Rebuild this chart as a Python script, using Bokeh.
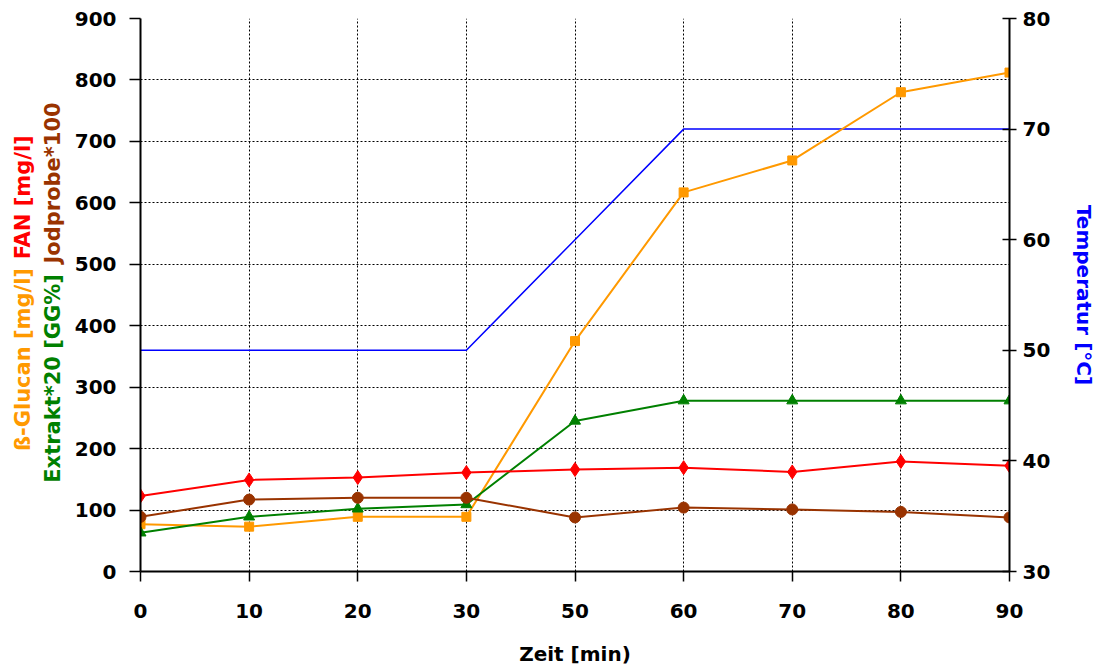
import math
from bokeh.plotting import figure
from bokeh.models import Range1d, LinearAxis, FixedTicker
from bokeh.layouts import row
from bokeh.core.properties import value
from bokeh.embed import file_html
from bokeh.resources import INLINE

# ---- data ----
zeit_labels = ["0", "10", "20", "30", "50", "60", "70", "80", "90"]
glucan = [77, 73, 89, 89, 375, 617, 669, 780, 812]
fan = [123, 149, 153, 161, 166, 169, 162, 179, 172]
extrakt = [63, 89, 102, 109, 245, 278, 278, 278, 278]
jodprobe = [89, 117, 120, 120, 88, 104, 101, 97, 88]
temperatur = [50, 50, 50, 50, 60, 70, 70, 70, 70]
left_ticks = [0, 100, 200, 300, 400, 500, 600, 700, 800, 900]
right_ticks = [30, 40, 50, 60, 70, 80]

x = list(range(len(zeit_labels)))

FONT = "DejaVu Sans"
ORANGE = "#FF9900"
RED = "#FF0000"
GREEN = "#008000"
BROWN = "#993300"
BLUE = "#0000FF"

H = 668
LW = 68          # width of the strip holding the left multi-coloured title
MW = 1031        # width of the main chart
TOP, BOTTOM = 18, 572   # frame edges (pixels from the top)

p = figure(width=MW, height=H, output_backend="svg", toolbar_location=None,
           x_range=Range1d(0, len(x) - 1), y_range=Range1d(0, 900),
           min_border_left=72, min_border_right=88, min_border_top=TOP,
           min_border_bottom=H - BOTTOM)
p.outline_line_color = None
p.background_fill_color = "white"
p.border_fill_color = "white"
p.extra_y_ranges = {"temp": Range1d(30, 80)}

xa = p.xaxis[0]
xa.ticker = FixedTicker(ticks=x)
xa.major_label_overrides = {i: lab for i, lab in enumerate(zeit_labels)}
xa.axis_label = "Zeit [min)"
ya = p.yaxis[0]
ya.ticker = FixedTicker(ticks=left_ticks)
ya.axis_label = None

ra = LinearAxis(y_range_name="temp", ticker=FixedTicker(ticks=right_ticks),
                axis_label="Temperatur [°C]")
p.add_layout(ra, "right")

for ax in (xa, ya, ra):
    ax.axis_line_color = "black"
    ax.axis_line_width = 2
    ax.major_tick_line_color = "black"
    ax.major_tick_line_width = 1.5
    ax.minor_tick_line_color = None
    ax.major_label_text_font = FONT
    ax.major_label_text_font_style = "bold"
    ax.major_label_text_font_size = "20px"
    ax.major_label_text_color = "black"
    ax.axis_label_text_font = FONT
    ax.axis_label_text_font_style = "bold"
    ax.axis_label_text_font_size = "20px"

xa.major_tick_in = 0
xa.major_tick_out = 10
xa.major_label_standoff = 22
xa.axis_label_standoff = 21
xa.axis_label_text_color = "black"

ya.major_tick_in = 0
ya.major_tick_out = 11
ya.major_label_standoff = 13

ra.major_tick_in = 7
ra.major_tick_out = 7
ra.major_label_standoff = 6
ra.axis_label_standoff = 19
ra.axis_label_text_color = BLUE

p.xgrid.ticker = FixedTicker(ticks=x)
p.ygrid.ticker = FixedTicker(ticks=left_ticks)
for g in (p.xgrid, p.ygrid):
    g.grid_line_color = "black"
    g.grid_line_dash = "2 2"
    g.grid_line_width = 1

p.line(x, temperatur, y_range_name="temp", line_color=BLUE, line_width=1.5)

p.line(x, glucan, line_color=ORANGE, line_width=2)
p.scatter(x, glucan, marker="square", size=9, fill_color=ORANGE, line_color=ORANGE)

p.line(x, extrakt, line_color=GREEN, line_width=2)
p.scatter(x, extrakt, marker="triangle", size=11, fill_color=GREEN, line_color=GREEN)

p.line(x, jodprobe, line_color=BROWN, line_width=2)
p.scatter(x, jodprobe, marker="circle", size=11, fill_color=BROWN, line_color=BROWN)

p.line(x, fan, line_color=RED, line_width=2)
p.scatter(x, fan, marker="diamond", size=14, fill_color=RED, line_color=RED)

# ---- left strip: multi-coloured, rotated y-axis title ----
# The row aligns this strip's frame with the chart's frame, so it shares the
# chart's vertical range; positions below are converted from pixel rows.
lab = figure(width=LW, height=H, output_backend="svg", toolbar_location=None,
             x_range=Range1d(0, LW), y_range=p.y_range,
             x_axis_location=None, y_axis_location=None, min_border=0)
lab.outline_line_color = None
lab.grid.visible = False
lab.background_fill_color = "white"
lab.border_fill_color = "white"


def row_to_y(py):
    return (BOTTOM - py) * 900.0 / (BOTTOM - TOP)


# each segment is anchored at its upper end (text reads bottom to top)
title_parts = [
    ("ß-Glucan [mg/l]", ORANGE, 22, 268),
    ("FAN [mg/l]", RED, 22, 135),
    ("Extrakt*20 [GG%]", GREEN, 52, 274),
    ("Jodprobe*100", BROWN, 52, 102),
]
for txt, col, tx, py in title_parts:
    lab.text(x=[tx], y=[row_to_y(py)], text=[txt], angle=math.pi / 2,
             text_align="right", text_baseline="middle", text_color=col,
             text_font=value(FONT), text_font_style="bold",
             text_font_size="21px")

layout = row(lab, p)
open("out.html", "w").write(file_html(layout, INLINE))
